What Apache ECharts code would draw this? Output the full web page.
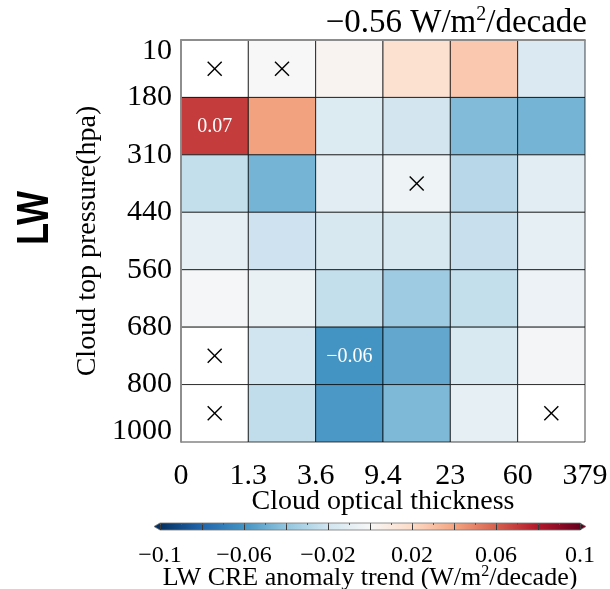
<!DOCTYPE html>
<html>
<head>
<meta charset="utf-8">
<script src="https://cdn.jsdelivr.net/npm/echarts@6/dist/echarts.min.js"></script>
<style>
  html, body { margin: 0; padding: 0; background: #fff; }
  #chart { width: 610px; height: 589px; }
</style>
</head>
<body>
<div id="chart"></div>
<script>
// Bin edges of the ISCCP-style joint histogram
const opticalThickness = ['0', '1.3', '3.6', '9.4', '23', '60', '379'];
const cloudTopPressure = ['10', '180', '310', '440', '560', '680', '800', '1000'];

// LW CRE anomaly trend (W/m2/decade); rows follow pressure bins from top, columns follow optical thickness bins
const trendRow10to180    = [null,   0.000,  0.003,  0.016,  0.027, -0.015];
const trendRow180to310   = [0.07,   0.041, -0.014, -0.019, -0.044, -0.047];
const trendRow310to440   = [-0.024, -0.047, -0.011, -0.005, -0.028, -0.011];
const trendRow440to560   = [-0.009, -0.021, -0.017, -0.017, -0.023, -0.009];
const trendRow560to680   = [-0.001, -0.007, -0.024, -0.036, -0.024, -0.006];
const trendRow680to800   = [null,   -0.020, -0.060, -0.052, -0.016, -0.002];
const trendRow800to1000  = [null,   -0.025, -0.058, -0.045, -0.009, null];
const trendRows = [trendRow10to180, trendRow180to310, trendRow310to440, trendRow440to560,
                   trendRow560to680, trendRow680to800, trendRow800to1000];

// Bins whose trend is not significant, as [column, row]
const insignificantBins = [[0, 0], [1, 0], [3, 2], [0, 5], [0, 6], [5, 6]];

// Colour bar
const colorRange = [-0.1, 0.1];
const colorbarTickLabels = [-0.1, -0.06, -0.02, 0.02, 0.06, 0.1];
const totalTrendText = '\u22120.56';

// RdBu reversed, blue (negative) to red (positive)
const rdbuStops = ['#053061', '#2166ac', '#4393c3', '#92c5de', '#d1e5f0', '#f7f7f7',
                   '#fddbc7', '#f4a582', '#d6604d', '#b2182b', '#67001f'];

const serif = '"Liberation Serif", "Times New Roman", serif';

function hexToRgb(h) {
  return [parseInt(h.slice(1, 3), 16), parseInt(h.slice(3, 5), 16), parseInt(h.slice(5, 7), 16)];
}
const stopRgb = rdbuStops.map(hexToRgb);

function colorFor(v) {
  let t = (v - colorRange[0]) / (colorRange[1] - colorRange[0]);
  t = Math.max(0, Math.min(1, t)) * (stopRgb.length - 1);
  const i = Math.min(Math.floor(t), stopRgb.length - 2);
  const f = t - i;
  const a = stopRgb[i], b = stopRgb[i + 1];
  const c = a.map((x, k) => Math.round(x + (b[k] - x) * f));
  return 'rgb(' + c.join(',') + ')';
}

function fmtSigned(v, digits) {
  const s = digits == null ? String(Math.round(v * 1000) / 1000) : v.toFixed(digits);
  return s.replace('-', '\u2212');
}

// Cell data and the extremes that get a value label
const cellData = [];
let maxV = -Infinity, minV = Infinity;
trendRows.forEach((row, r) => {
  row.forEach((v, c) => {
    cellData.push([c, r, v]);
    if (v != null) { maxV = Math.max(maxV, v); minV = Math.min(minV, v); }
  });
});

const chart = echarts.init(document.getElementById('chart'));

const gridLine = { show: true, lineStyle: { color: '#8c8c8c', width: 1.5 } };

chart.setOption({
  animation: false,
  backgroundColor: '#fff',
  title: {
    text: '{a|' + totalTrendText + ' W/m}{s|2}{a|/decade}',
    right: 23,
    top: 5,
    padding: 0,
    textStyle: {
      fontWeight: 'normal',
      rich: {
        a: { fontSize: 33, fontFamily: serif, fontWeight: 'normal', color: '#000' },
        s: { fontSize: 20, fontFamily: serif, fontWeight: 'normal', color: '#000', padding: [0, 0, 16, 0] }
      }
    }
  },
  graphic: [{
    type: 'text',
    x: 36,
    y: 218,
    rotation: Math.PI / 2,
    scaleX: 0.82,
    style: {
      text: 'LW',
      font: 'bold 44px "Liberation Sans", Arial, sans-serif',
      fill: '#000',
      textAlign: 'center',
      textVerticalAlign: 'middle'
    }
  }],
  grid: [
    { left: 181, top: 40, width: 404, height: 402, containLabel: false, outerBoundsMode: 'none' },
    { left: 160, top: 523, width: 420, height: 7, containLabel: false, outerBoundsMode: 'none' }
  ],
  xAxis: [
    {
      gridIndex: 0, type: 'value', min: 0, max: 6, interval: 1, position: 'bottom', z: 5,
      axisLine: gridLine, axisTick: { show: false }, splitLine: { show: false },
      axisLabel: {
        fontSize: 30, fontFamily: serif, color: '#000', margin: 19,
        formatter: v => opticalThickness[v]
      },
      name: 'Cloud optical thickness', nameLocation: 'middle', nameGap: 46, nameMoveOverlap: false,
      nameTextStyle: { fontSize: 28, fontFamily: serif, color: '#000' }
    },
    {
      gridIndex: 0, type: 'value', min: 0, max: 6, interval: 1, position: 'top', z: 5,
      axisLine: gridLine, axisTick: { show: false }, splitLine: { show: false },
      axisLabel: { show: false }
    },
    {
      gridIndex: 1, type: 'value', min: colorRange[0], max: colorRange[1], interval: 0.02,
      position: 'bottom', z: 5,
      axisLine: { show: false }, axisTick: { show: false },
      splitLine: { show: true, lineStyle: { color: '#3a3a3a', width: 1 } },
      axisLabel: {
        fontSize: 24, fontFamily: serif, color: '#000', margin: 14,
        formatter: v => colorbarTickLabels.some(t => Math.abs(t - v) < 1e-9) ? fmtSigned(v) : ''
      },
      name: 'LW CRE anomaly trend (W/m{s|2}/decade)', nameLocation: 'middle', nameGap: 34,
      nameMoveOverlap: false,
      nameTextStyle: {
        fontSize: 26, fontFamily: serif, color: '#000',
        rich: { s: { fontSize: 16, fontFamily: serif, color: '#000', padding: [0, 0, 12, 0] } }
      }
    },
    {
      gridIndex: 1, type: 'value', min: colorRange[0], max: colorRange[1], interval: 0.01,
      position: 'top', z: 5,
      axisLine: { show: false },
      axisTick: { show: true, inside: true, length: 2, lineStyle: { color: '#555', width: 1 } },
      splitLine: { show: false }, axisLabel: { show: false }
    }
  ],
  yAxis: [
    {
      gridIndex: 0, type: 'value', min: 0, max: 7, interval: 1, inverse: true, z: 5,
      axisLine: gridLine, axisTick: { show: false }, splitLine: { show: false },
      axisLabel: {
        fontSize: 30, fontFamily: serif, color: '#000', margin: 9,
        formatter: v => {
          const s = cloudTopPressure[v];
          if (v === 0) return '{first|' + s + '}';
          if (v === cloudTopPressure.length - 1) return '{last|' + s + '}';
          return s;
        },
        rich: {
          first: { fontSize: 30, fontFamily: serif, color: '#000', padding: [22, 0, 0, 0] },
          last: { fontSize: 30, fontFamily: serif, color: '#000', padding: [0, 0, 22, 0] }
        }
      },
      name: 'Cloud top pressure(hpa)', nameLocation: 'middle', nameGap: 79, nameMoveOverlap: false,
      nameTextStyle: { fontSize: 28, fontFamily: serif, color: '#000' }
    },
    {
      gridIndex: 0, type: 'value', min: 0, max: 7, interval: 1, inverse: true, position: 'right', z: 5,
      axisLine: gridLine, axisTick: { show: false }, splitLine: { show: false },
      axisLabel: { show: false }
    },
    { gridIndex: 1, type: 'value', min: 0, max: 1, show: false }
  ],
  series: [
    {
      name: 'trend',
      type: 'custom',
      xAxisIndex: 0, yAxisIndex: 0,
      clip: false,
      data: cellData,
      renderItem: (params, api) => {
        const c = api.value(0), r = api.value(1), v = api.value(2);
        const p0 = api.coord([c, r]);
        const p1 = api.coord([c + 1, r + 1]);
        const x = Math.min(p0[0], p1[0]), y = Math.min(p0[1], p1[1]);
        const w = Math.abs(p1[0] - p0[0]), h = Math.abs(p1[1] - p0[1]);
        const missing = v == null || isNaN(v);
        const children = [{
          type: 'rect',
          shape: { x: x, y: y, width: w, height: h },
          style: { fill: missing ? '#ffffff' : colorFor(v), stroke: 'rgba(0,0,0,0.72)', lineWidth: 1 }
        }];
        if (!missing && (v === maxV || v === minV)) {
          children.push({
            type: 'text',
            x: x + w / 2, y: y + h / 2 + 1,
            style: {
              text: fmtSigned(v, 2), fill: '#fff',
              font: '20px ' + serif, textAlign: 'center', textVerticalAlign: 'middle'
            }
          });
        }
        return { type: 'group', children: children };
      }
    },
    {
      name: 'not significant',
      type: 'custom',
      xAxisIndex: 0, yAxisIndex: 0,
      clip: false,
      z: 4,
      data: insignificantBins.map(b => [b[0] + 0.5, b[1] + 0.5]),
      renderItem: (params, api) => {
        const p = api.coord([api.value(0), api.value(1)]);
        const s = 7;
        const st = { stroke: '#000', lineWidth: 1.4 };
        return {
          type: 'group',
          children: [
            { type: 'line', shape: { x1: p[0] - s, y1: p[1] - s, x2: p[0] + s, y2: p[1] + s }, style: st },
            { type: 'line', shape: { x1: p[0] + s, y1: p[1] - s, x2: p[0] - s, y2: p[1] + s }, style: st }
          ]
        };
      }
    },
    {
      name: 'colorbar',
      type: 'custom',
      xAxisIndex: 2, yAxisIndex: 2,
      clip: false,
      z: 2,
      data: [[colorRange[0], colorRange[1]]],
      renderItem: (params, api) => {
        const cs = params.coordSys;
        const x0 = api.coord([api.value(0), 0])[0];
        const x1 = api.coord([api.value(1), 0])[0];
        const yt = cs.y, yb = cs.y + cs.height, ym = (yt + yb) / 2;
        const tip = 6;
        const gradient = new echarts.graphic.LinearGradient(0, 0, 1, 0,
          rdbuStops.map((c, i) => ({ offset: i / (rdbuStops.length - 1), color: c })));
        return {
          type: 'group',
          children: [
            { type: 'rect', shape: { x: x0, y: yt, width: x1 - x0, height: yb - yt }, style: { fill: gradient } },
            { type: 'polygon', shape: { points: [[x0 - tip, ym], [x0, yt], [x0, yb]] }, style: { fill: rdbuStops[0] } },
            { type: 'polygon', shape: { points: [[x1 + tip, ym], [x1, yt], [x1, yb]] }, style: { fill: rdbuStops[rdbuStops.length - 1] } },
            {
              type: 'polygon',
              shape: { points: [[x0 - tip, ym], [x0, yt], [x1, yt], [x1 + tip, ym], [x1, yb], [x0, yb]] },
              style: { fill: 'none', stroke: '#777', lineWidth: 0.8 }
            }
          ]
        };
      }
    }
  ]
});
</script>
</body>
</html>
